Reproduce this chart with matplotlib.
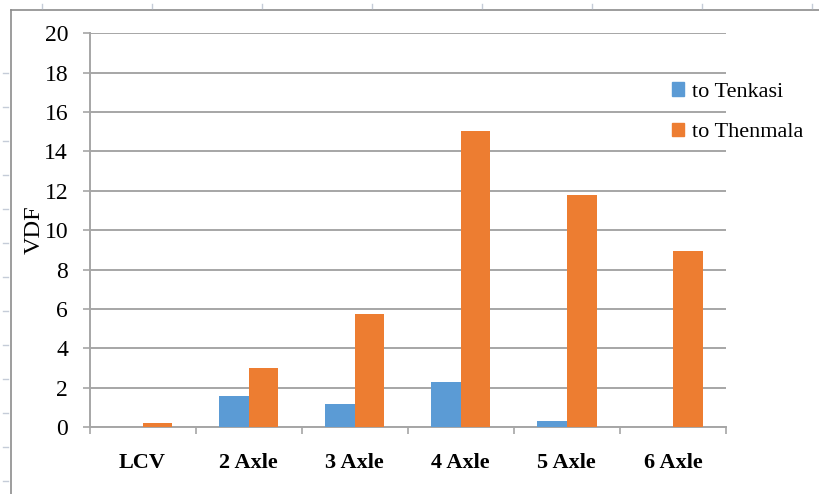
import matplotlib
matplotlib.use("Agg")
import matplotlib.pyplot as plt
import numpy as np
from matplotlib.lines import Line2D
from matplotlib.patches import Patch

categories = ["LCV", "2 Axle", "3 Axle", "4 Axle", "5 Axle", "6 Axle"]
to_tenkasi = [0.0, 1.59, 1.18, 2.30, 0.32, 0.0]
to_thenmala = [0.2, 2.98, 5.74, 15.06, 11.78, 8.93]

blue = "#5b9bd5"
orange = "#ed7d31"
grid_grey = "#a6a6a6"

plt.rcParams["font.family"] = ["Liberation Serif", "DejaVu Serif"]

fig = plt.figure(figsize=(8.19, 4.94), dpi=100)
ax = fig.add_axes([0.1093, 0.1356, 0.7771, 0.797])

x = np.arange(len(categories))
w = 0.28
ax.bar(x - w / 2, to_tenkasi, w, color=blue, zorder=3)
ax.bar(x + w / 2, to_thenmala, w, color=orange, zorder=3)

ax.set_xlim(-0.5, len(categories) - 0.5)
ax.set_ylim(0, 20)
ax.set_yticks(range(0, 21, 2))
ax.tick_params(axis="y", labelsize=17, length=5.4, width=1.2, color=grid_grey, pad=10)

# category labels in the middle, tick marks on the boundaries
ax.set_xticks(x)
ax.set_xticklabels(categories, fontsize=16, fontweight="bold")
ax.tick_params(axis="x", which="major", length=0, pad=19)
ax.set_xticks(np.arange(-0.5, len(categories)), minor=True)
ax.tick_params(axis="x", which="minor", length=5, width=1.2, color=grid_grey)

ax.yaxis.grid(True, color=grid_grey, linewidth=1.4, zorder=0)
ax.set_axisbelow(True)
for side in ["top", "right"]:
    ax.spines[side].set_visible(False)
for side in ["left", "bottom"]:
    ax.spines[side].set_color(grid_grey)
    ax.spines[side].set_linewidth(1.4)

ax.set_ylabel("VDF", fontsize=17.5)
ax.yaxis.set_label_coords(-0.071, 0.5)

handles = [Patch(color=blue, label="to Tenkasi"), Patch(color=orange, label="to Thenmala")]
fig.legend(handles=handles, loc="upper left", bbox_to_anchor=(0.796, 0.874),
           frameon=False, fontsize=16, handlelength=0.55, handleheight=0.55,
           handletextpad=0.35, labelspacing=0.95)

# outer chart border
fig.add_artist(Line2D([11 / 819, 11 / 819], [0, 1 - 10 / 494], color="#8c8c8c", lw=1.2))
fig.add_artist(Line2D([11 / 819, 1], [1 - 10 / 494, 1 - 10 / 494], color="#8c8c8c", lw=1.2))

# sheet ruler marks outside the border
for yy in range(73, 494, 34):
    fig.add_artist(Line2D([3 / 819, 8 / 819], [1 - yy / 494] * 2, color="#c5ccd8", lw=1))
for xx in range(42, 819, 110):
    fig.add_artist(Line2D([xx / 819] * 2, [1 - 4 / 494, 1 - 8 / 494], color="#c5ccd8", lw=1))

fig.savefig("out.png", dpi=100)
